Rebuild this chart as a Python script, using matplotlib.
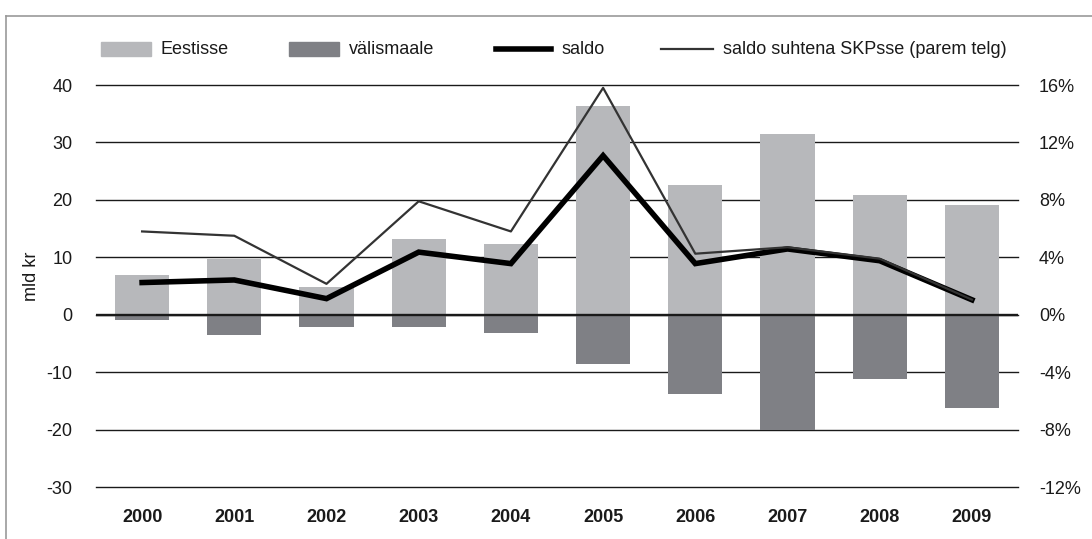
import matplotlib
matplotlib.use("Agg")
import matplotlib.pyplot as plt
from matplotlib.patches import Rectangle
from matplotlib.lines import Line2D
import numpy as np

plt.rcParams['font.family'] = ['Liberation Sans', 'DejaVu Sans']
plt.rcParams['axes.unicode_minus'] = False

years = ['2000', '2001', '2002', '2003', '2004', '2005', '2006', '2007', '2008', '2009']
eestisse = [6.9, 9.7, 4.85, 13.2, 12.4, 36.3, 22.6, 31.4, 20.8, 19.1]
valismaale = [-1.0, -3.5, -2.2, -2.2, -3.2, -8.6, -13.8, -20.0, -11.2, -16.3]
saldo = [5.6, 6.05, 2.8, 10.9, 8.9, 27.7, 8.9, 11.45, 9.4, 2.6]
saldo_pct = [5.8, 5.5, 2.15, 7.9, 5.8, 15.8, 4.25, 4.7, 3.9, 1.05]
left_ticks = [-30, -20, -10, 0, 10, 20, 30, 40]
right_ticks = [-12, -8, -4, 0, 4, 8, 12, 16]
legend_labels = ['Eestisse', 'välismaale', 'saldo', 'saldo suhtena SKPsse (parem telg)']

W, H = 1092, 539
fig = plt.figure(figsize=(W / 100, H / 100), dpi=100)

def fx(px):
    return px / W

def fy(py):
    return 1 - py / H

ax_l, ax_r, ax_t, ax_b = 96, 1018, 85, 487
ax = fig.add_axes([fx(ax_l), fy(ax_b), fx(ax_r - ax_l), (ax_b - ax_t) / H])

c_light = '#b7b8bb'
c_dark = '#7f8085'
x = np.arange(len(years))
ax.bar(x, eestisse, width=0.59, color=c_light, zorder=2)
ax.bar(x, valismaale, width=0.59, color=c_dark, zorder=2)
ax.axhline(0, color='#1a1a1a', lw=1.7, zorder=3)
ax.plot(x, saldo, color='black', lw=4.0, solid_joinstyle='miter', zorder=4)

ax.set_xlim(-0.5, 9.5)
ax.set_ylim(-30, 40)
ax.set_yticks(left_ticks)
ax.set_yticklabels([str(t) for t in left_ticks])
ax.set_xticks(x)
ax.set_xticklabels(years, fontweight='bold')
ax.yaxis.grid(True, color='#1a1a1a', lw=1.0)
for gl in ax.get_ygridlines():
    gl.set_clip_on(False)
ax.set_axisbelow(True)
ax.tick_params(axis='both', length=0, labelsize=13, colors='#1a1a1a')
ax.tick_params(axis='y', pad=17)
ax.tick_params(axis='x', pad=16)
for s in ax.spines.values():
    s.set_visible(False)

ax2 = ax.twinx()
ax2.plot(x, saldo_pct, color='#333333', lw=1.6, zorder=5)
ax2.set_ylim(-12, 16)
ax2.set_yticks(right_ticks)
ax2.set_yticklabels([f"{t}%" for t in right_ticks])
ax2.tick_params(axis='y', length=0, labelsize=13, pad=15, colors='#1a1a1a')
for s in ax2.spines.values():
    s.set_visible(False)

fig.text(fx(32), fy(276), 'mld kr', rotation=90, ha='center', va='center',
         fontsize=13, color='#1a1a1a')

# legend
ly = 49
fig.add_artist(Rectangle((fx(101), fy(ly + 7)), fx(50), 14 / H, color=c_light, transform=fig.transFigure))
fig.text(fx(161), fy(ly), legend_labels[0], va='center', ha='left', fontsize=13, color='#1a1a1a')
fig.add_artist(Rectangle((fx(289), fy(ly + 7)), fx(50), 14 / H, color=c_dark, transform=fig.transFigure))
fig.text(fx(349), fy(ly), legend_labels[1], va='center', ha='left', fontsize=13, color='#1a1a1a')
fig.add_artist(Line2D([fx(496), fx(551)], [fy(ly), fy(ly)], color='black', lw=4.0, transform=fig.transFigure))
fig.text(fx(562), fy(ly), legend_labels[2], va='center', ha='left', fontsize=13, color='#1a1a1a')
fig.add_artist(Line2D([fx(661), fx(713)], [fy(ly), fy(ly)], color='#333333', lw=1.6, transform=fig.transFigure))
fig.text(fx(723), fy(ly), legend_labels[3], va='center', ha='left', fontsize=13, color='#1a1a1a')

# frame
fig.add_artist(Line2D([fx(6), 1.0], [fy(16), fy(16)], color='#999999', lw=1.2, transform=fig.transFigure))
fig.add_artist(Line2D([fx(6), fx(6)], [fy(16), 0.0], color='#999999', lw=1.2, transform=fig.transFigure))

fig.savefig('out.png', dpi=100)
